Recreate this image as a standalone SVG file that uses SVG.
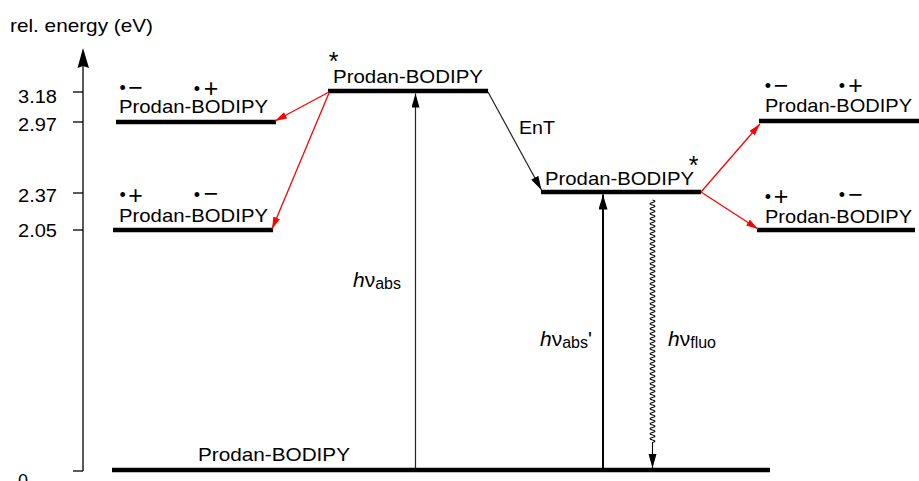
<svg xmlns="http://www.w3.org/2000/svg" width="919" height="481" viewBox="0 0 919 481">
<style>
text{font-family:"Liberation Sans",Arial,sans-serif;fill:#000}
.lbl{font-size:18.5px}
.tick{font-size:18px}
.rad{font-size:25px}
.dot{font-size:18px}
.ast{font-size:25px}
.hv{font-size:21px}
.sub{font-size:16px}
.bar{stroke:#000;stroke-width:4.5;fill:none}
.ax{stroke:#000;stroke-width:1.3;fill:none}
.thin{stroke:#222;stroke-width:1.2;fill:none}
.red{stroke:#f00;stroke-width:1.3;fill:none}
</style>
<defs>
<marker id="ah" markerUnits="userSpaceOnUse" markerWidth="16" markerHeight="10" refX="14" refY="4" orient="auto"><path d="M0,0 L14,4 L0,8 z" fill="#000"/></marker>
<marker id="ahb" markerUnits="userSpaceOnUse" markerWidth="16" markerHeight="10" refX="15" refY="4.5" orient="auto"><path d="M0,0 L15,4.5 L0,9 z" fill="#000"/></marker>
<marker id="ahr" markerUnits="userSpaceOnUse" markerWidth="14" markerHeight="10" refX="12" refY="3.5" orient="auto"><path d="M0,0 L12,3.5 L0,7 z" fill="#f00"/></marker>
</defs>

<g id="axis">
<text x="10" y="32" style="font-size:18.5px" textLength="143" lengthAdjust="spacingAndGlyphs">rel. energy (eV)</text>
<line class="ax" x1="83" y1="471" x2="83" y2="55"/>
<path d="M83,48 L89,68 L83,66 L77.5,68 z" fill="#000"/>
<line class="ax" x1="73" y1="92" x2="83" y2="92"/>
<line class="ax" x1="73" y1="122" x2="83" y2="122"/>
<line class="ax" x1="73" y1="193" x2="83" y2="193"/>
<line class="ax" x1="73" y1="230" x2="83" y2="230"/>
<line class="ax" x1="73" y1="471" x2="83" y2="471"/>
<text class="tick" x="57" y="103" text-anchor="end" textLength="39" lengthAdjust="spacingAndGlyphs">3.18</text>
<text class="tick" x="57" y="131" text-anchor="end" textLength="39" lengthAdjust="spacingAndGlyphs">2.97</text>
<text class="tick" x="57" y="202" text-anchor="end" textLength="39" lengthAdjust="spacingAndGlyphs">2.37</text>
<text class="tick" x="57" y="237" text-anchor="end" textLength="39" lengthAdjust="spacingAndGlyphs">2.05</text>
<text class="tick" x="18" y="487">0</text>
</g>

<g id="ground">
<line class="bar" x1="112" y1="470" x2="770" y2="470"/>
<text class="lbl" x="198" y="461" textLength="152" lengthAdjust="spacingAndGlyphs">Prodan-BODIPY</text>
</g>

<g id="excited-top">
<line class="bar" x1="328" y1="91" x2="488" y2="91"/>
<text class="ast" x="333.5" y="70" text-anchor="middle">*</text>
<text class="lbl" x="333" y="83" textLength="150" lengthAdjust="spacingAndGlyphs">Prodan-BODIPY</text>
</g>

<g id="cs-left-upper">
<line class="bar" x1="116" y1="122" x2="276" y2="122"/>
<text class="dot" x="122.7" y="93.5" text-anchor="middle">•</text>
<text class="rad" x="135.5" y="95.5" text-anchor="middle">−</text>
<text class="dot" x="197" y="94.5" text-anchor="middle">•</text>
<text class="rad" x="211" y="96.5" text-anchor="middle">+</text>
<text class="lbl" x="119" y="113" textLength="149" lengthAdjust="spacingAndGlyphs">Prodan-BODIPY</text>
</g>

<g id="cs-left-lower">
<line class="bar" x1="113" y1="230" x2="273" y2="230"/>
<text class="dot" x="122.7" y="201" text-anchor="middle">•</text>
<text class="rad" x="135.5" y="204" text-anchor="middle">+</text>
<text class="dot" x="197" y="200.5" text-anchor="middle">•</text>
<text class="rad" x="211" y="201.5" text-anchor="middle">−</text>
<text class="lbl" x="119" y="222" textLength="149" lengthAdjust="spacingAndGlyphs">Prodan-BODIPY</text>
</g>

<g id="excited-right">
<line class="bar" x1="541" y1="192" x2="701" y2="192"/>
<text class="lbl" x="545" y="185" textLength="149" lengthAdjust="spacingAndGlyphs">Prodan-BODIPY</text>
<text class="ast" x="693.5" y="174" text-anchor="middle">*</text>
</g>

<g id="cs-right-upper">
<line class="bar" x1="759" y1="121" x2="919" y2="121"/>
<text class="dot" x="768" y="91.5" text-anchor="middle">•</text>
<text class="rad" x="781" y="93.5" text-anchor="middle">−</text>
<text class="dot" x="842" y="91.5" text-anchor="middle">•</text>
<text class="rad" x="855.5" y="93.5" text-anchor="middle">+</text>
<text class="lbl" x="765" y="112" textLength="147" lengthAdjust="spacingAndGlyphs">Prodan-BODIPY</text>
</g>

<g id="cs-right-lower">
<line class="bar" x1="757" y1="230" x2="915" y2="230"/>
<text class="dot" x="768" y="202.5" text-anchor="middle">•</text>
<text class="rad" x="781" y="204.5" text-anchor="middle">+</text>
<text class="dot" x="842" y="201" text-anchor="middle">•</text>
<text class="rad" x="855.5" y="202.5" text-anchor="middle">−</text>
<text class="lbl" x="765" y="223" textLength="147" lengthAdjust="spacingAndGlyphs">Prodan-BODIPY</text>
</g>

<g id="connectors">
<line class="thin" x1="415.5" y1="468" x2="415.5" y2="93.5" marker-end="url(#ah)"/>
<line class="thin" x1="488" y1="92" x2="541.5" y2="190" marker-end="url(#ah)"/>
<line x1="603" y1="468" x2="603" y2="194.5" stroke="#000" stroke-width="2" marker-end="url(#ahb)"/>
<path d="M652.5,200 q5,1.25 0,2.5 t0,2.5 t0,2.5 t0,2.5 t0,2.5 t0,2.5 t0,2.5 t0,2.5 t0,2.5 t0,2.5 t0,2.5 t0,2.5 t0,2.5 t0,2.5 t0,2.5 t0,2.5 t0,2.5 t0,2.5 t0,2.5 t0,2.5 t0,2.5 t0,2.5 t0,2.5 t0,2.5 t0,2.5 t0,2.5 t0,2.5 t0,2.5 t0,2.5 t0,2.5 t0,2.5 t0,2.5 t0,2.5 t0,2.5 t0,2.5 t0,2.5 t0,2.5 t0,2.5 t0,2.5 t0,2.5 t0,2.5 t0,2.5 t0,2.5 t0,2.5 t0,2.5 t0,2.5 t0,2.5 t0,2.5 t0,2.5 t0,2.5 t0,2.5 t0,2.5 t0,2.5 t0,2.5 t0,2.5 t0,2.5 t0,2.5 t0,2.5 t0,2.5 t0,2.5 t0,2.5 t0,2.5 t0,2.5 t0,2.5 t0,2.5 t0,2.5 t0,2.5 t0,2.5 t0,2.5 t0,2.5 t0,2.5 t0,2.5 t0,2.5 t0,2.5 t0,2.5 t0,2.5 t0,2.5 t0,2.5 t0,2.5 t0,2.5 t0,2.5 t0,2.5 t0,2.5 t0,2.5 t0,2.5 t0,2.5 t0,2.5 t0,2.5 t0,2.5 t0,2.5 t0,2.5 t0,2.5 t0,2.5 t0,2.5 t0,2.5 t0,2.5 t0,2.5 L652.5,468" stroke="#000" stroke-width="1.1" fill="none" marker-end="url(#ah)"/>
<line class="red" x1="329" y1="92" x2="275" y2="121" marker-end="url(#ahr)"/>
<line class="red" x1="329" y1="93" x2="272" y2="229" marker-end="url(#ahr)"/>
<line class="red" x1="701" y1="192" x2="760" y2="124" marker-end="url(#ahr)"/>
<line class="red" x1="701" y1="192" x2="758" y2="229" marker-end="url(#ahr)"/>
<text x="519" y="134" style="font-size:18.5px" textLength="36" lengthAdjust="spacingAndGlyphs">EnT</text>
<text class="hv" x="353" y="287"><tspan font-style="italic">h</tspan>ν<tspan class="sub" dy="1.5">abs</tspan></text>
<text class="hv" x="540" y="346"><tspan font-style="italic">h</tspan>ν<tspan class="sub" dy="1.5">abs</tspan><tspan dy="-1.5">'</tspan></text>
<text class="hv" x="668" y="346"><tspan font-style="italic">h</tspan>ν<tspan class="sub" dy="1.5">fluo</tspan></text>
</g>
</svg>
